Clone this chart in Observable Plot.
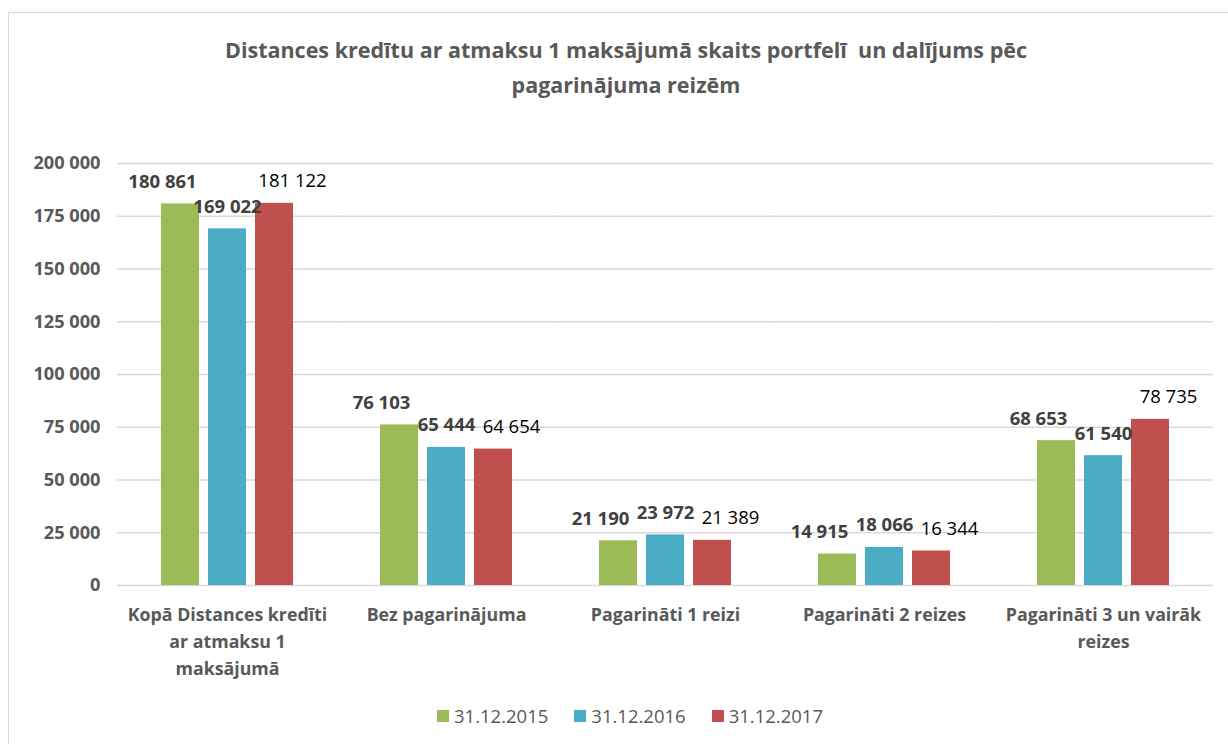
<!DOCTYPE html>
<html><head><meta charset="utf-8">
<script src="https://cdn.jsdelivr.net/npm/d3@7"></script>
<script src="https://cdn.jsdelivr.net/npm/@observablehq/plot@0.6"></script>
<style>
body{margin:0;width:1228px;height:744px;overflow:hidden;background:#fff;font-family:"Open Sans",sans-serif;position:relative}
#frame{position:absolute;left:8px;top:12px;width:1300px;height:800px;border:1.5px solid #d9d9d9;box-sizing:border-box}
#title{position:absolute;left:0;width:1252px;top:32px;text-align:center;font-weight:bold;font-size:21.5px;line-height:35px;color:#595959}
#chart{position:absolute;left:0;top:140px}
#legend{position:absolute;top:703px;left:10px;width:1240px;display:flex;justify-content:center;gap:26px;font-size:18.5px;color:#595959}
#legend span.it{display:flex;align-items:center;gap:5px}
#legend i{display:inline-block;width:12px;height:12px}
</style></head>
<body>
<div id="frame"></div>
<div id="title">Distances kredītu ar atmaksu 1 maksājumā skaits portfelī&nbsp; un dalījums pēc<br>pagarinājuma reizēm</div>
<div id="chart"></div>
<div id="legend"></div>
<script>
const categories = ["Kopā Distances kredīti ar atmaksu 1 maksājumā","Bez pagarinājuma","Pagarināti 1 reizi","Pagarināti 2 reizes","Pagarināti 3 un vairāk reizes"];
const categoryLabels = ["Kopā Distances kredīti\nar atmaksu 1\nmaksājumā","Bez pagarinājuma","Pagarināti 1 reizi","Pagarināti 2 reizes","Pagarināti 3 un vairāk\nreizes"];
const series = ["31.12.2015","31.12.2016","31.12.2017"];
const values2015 = [180861, 76103, 21190, 14915, 68653];
const values2016 = [169022, 65444, 23972, 18066, 61540];
const values2017 = [181122, 64654, 21389, 16344, 78735];
const yTicks = [0, 25000, 50000, 75000, 100000, 125000, 150000, 175000, 200000];
const colors = ["#9BBB59", "#4BACC6", "#C0504D"];

const seriesValues = [values2015, values2016, values2017];
const data = [];
series.forEach((s, si) => categories.forEach((c, ci) => data.push({category: c, series: s, value: seriesValues[si][ci]})));

const fmt = d3.formatLocale({decimal: ",", thousands: " ", grouping: [3], currency: ["", ""]}).format(",d");
const labelMap = new Map(categories.map((c, i) => [c, categoryLabels[i]]));

const labelStyle = [
  {dx: -18, fontWeight: "bold", fill: "#404040"},
  {dx: 0, fontWeight: "bold", fill: "#404040"},
  {dx: 18, fontWeight: "normal", fill: "#000000"}
];

const chart = Plot.plot({
  width: 1228, height: 560,
  marginLeft: 115, marginRight: 14, marginTop: 23, marginBottom: 115,
  style: {fontFamily: "'Open Sans', sans-serif", background: "transparent", overflow: "visible"},
  fx: {domain: categories, paddingInner: 0.39, paddingOuter: 0.195, axis: null, label: null},
  x: {domain: series, paddingInner: 0.2, paddingOuter: 0, axis: null},
  y: {domain: [0, 200000], axis: null},
  color: {domain: series, range: colors},
  marks: [
    Plot.ruleY(yTicks, {y: d => d, stroke: "#d9d9d9", strokeWidth: 1.5, insetLeft: -43, insetRight: -43}),
    Plot.barY(data, {fx: "category", x: "series", y: "value", fill: "series"}),
    ...series.map((s, si) => Plot.text(data.filter(d => d.series === s), {
      fx: "category", x: "series", y: "value", text: d => fmt(d.value),
      dy: -22, dx: labelStyle[si].dx, fontWeight: labelStyle[si].fontWeight,
      fill: labelStyle[si].fill, fontSize: 18.5
    })),
    Plot.text(categories, {fx: d => d, text: d => labelMap.get(d), frameAnchor: "bottom", lineAnchor: "top",
      dy: 16, lineHeight: 1.52, fontSize: 17.8, fontWeight: "bold", fill: "#595959"}),
    Plot.text(yTicks, {fx: () => categories[0], y: d => d, text: d => fmt(d), frameAnchor: "left", textAnchor: "end",
      dx: -60, fontSize: 18.2, fontWeight: "bold", fill: "#595959"})
  ]
});
document.getElementById("chart").appendChild(chart);

const legend = document.getElementById("legend");
series.forEach((s, i) => {
  const it = document.createElement("span");
  it.className = "it";
  it.innerHTML = `<i style="background:${colors[i]}"></i><span>${s}</span>`;
  legend.appendChild(it);
});
</script>
</body></html>
